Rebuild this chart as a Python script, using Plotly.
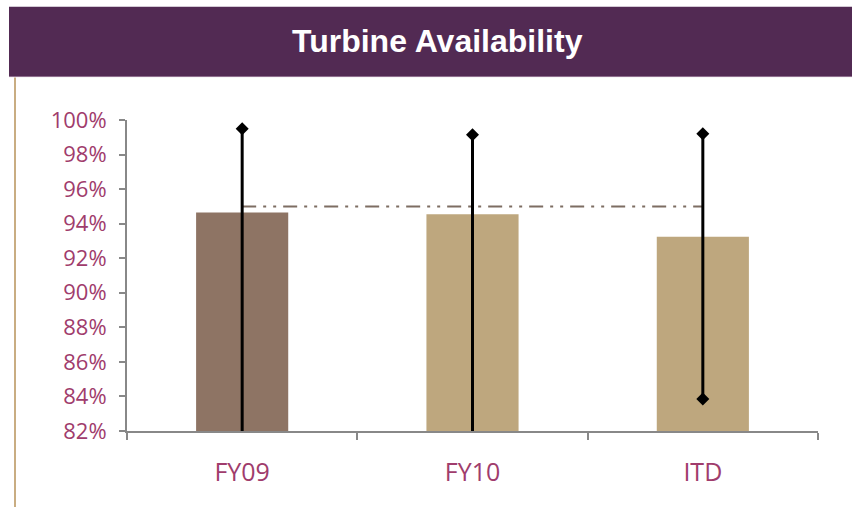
import plotly.graph_objects as go

# Data
categories = ["FY09", "FY10", "ITD"]
availability = [94.65, 94.55, 93.25]
range_high = [99.5, 99.15, 99.2]
range_low = [81.0, 81.0, 83.85]
target = 95.0
bar_colors = ["#8e7464", "#bea77e", "#bea77e"]
y_ticks = [82, 84, 86, 88, 90, 92, 94, 96, 98, 100]

W, H = 852, 507
L, R, T, B = 127, 34, 119.5, 76
pw, ph = W - L - R, H - T - B


def px_x(x):
    return (x - L) / pw


def px_y(y):
    return (H - B - y) / ph


fig = go.Figure()

fig.add_trace(go.Bar(
    x=categories, y=availability, marker=dict(color=bar_colors, line=dict(width=0)),
    width=0.4, showlegend=False, hoverinfo="x+y",
))

# Target line across categories
fig.add_trace(go.Scatter(
    x=[categories[0], categories[-1]], y=[target, target], mode="lines",
    line=dict(color="#7d6d62", width=2, dash="14px,7px,3px,7px,3px,7px"),
    showlegend=False, hoverinfo="skip",
))

# High/low range markers
for c, lo, hi in zip(categories, range_low, range_high):
    fig.add_trace(go.Scatter(
        x=[c, c], y=[lo, hi], mode="lines+markers",
        line=dict(color="black", width=3),
        marker=dict(symbol="diamond", size=10, color="black"),
        cliponaxis=True, showlegend=False,
    ))

label_color = "#a03c6c"

fig.update_layout(
    width=W, height=H,
    margin=dict(l=L, r=R, t=T, b=B),
    paper_bgcolor="white", plot_bgcolor="white",
    xaxis=dict(
        type="category", range=[-0.5, 2.5], showline=True, linecolor="#888888",
        linewidth=2, ticks="outside", tickson="boundaries", ticklen=7,
        tickcolor="#888888", tickwidth=2, showgrid=False, zeroline=False,
        tickfont=dict(family="Open Sans, sans-serif", size=25, color=label_color),
        ticklabelstandoff=18,
    ),
    yaxis=dict(
        range=[82, 100], tickvals=y_ticks, ticktext=[f"{v}%" for v in y_ticks],
        showline=True, linecolor="#888888", linewidth=2, ticks="outside",
        ticklen=6, tickcolor="#888888", tickwidth=2, showgrid=False,
        zeroline=False,
        tickfont=dict(family="Open Sans, sans-serif", size=22, color=label_color),
        ticklabelstandoff=8,
    ),
    shapes=[
        dict(type="rect", xref="paper", yref="paper",
             x0=px_x(9), x1=px_x(852), y0=px_y(76), y1=px_y(6),
             fillcolor="#522a53", line=dict(width=0), layer="above"),
        dict(type="line", xref="paper", yref="paper",
             x0=px_x(9), x1=px_x(852), y0=px_y(76), y1=px_y(76),
             line=dict(color="#8d6c8c", width=1)),
        dict(type="line", xref="paper", yref="paper",
             x0=px_x(15), x1=px_x(15), y0=px_y(77), y1=px_y(507),
             line=dict(color="#c9ad82", width=2)),
    ],
    annotations=[
        dict(text="<b>Turbine Availability</b>", xref="paper", yref="paper",
             x=px_x(437), y=px_y(40), showarrow=False,
             xanchor="center", yanchor="middle",
             font=dict(family="Liberation Sans, Arial, sans-serif", size=32,
                       color="white")),
    ],
)

fig.write_html("out.html")
